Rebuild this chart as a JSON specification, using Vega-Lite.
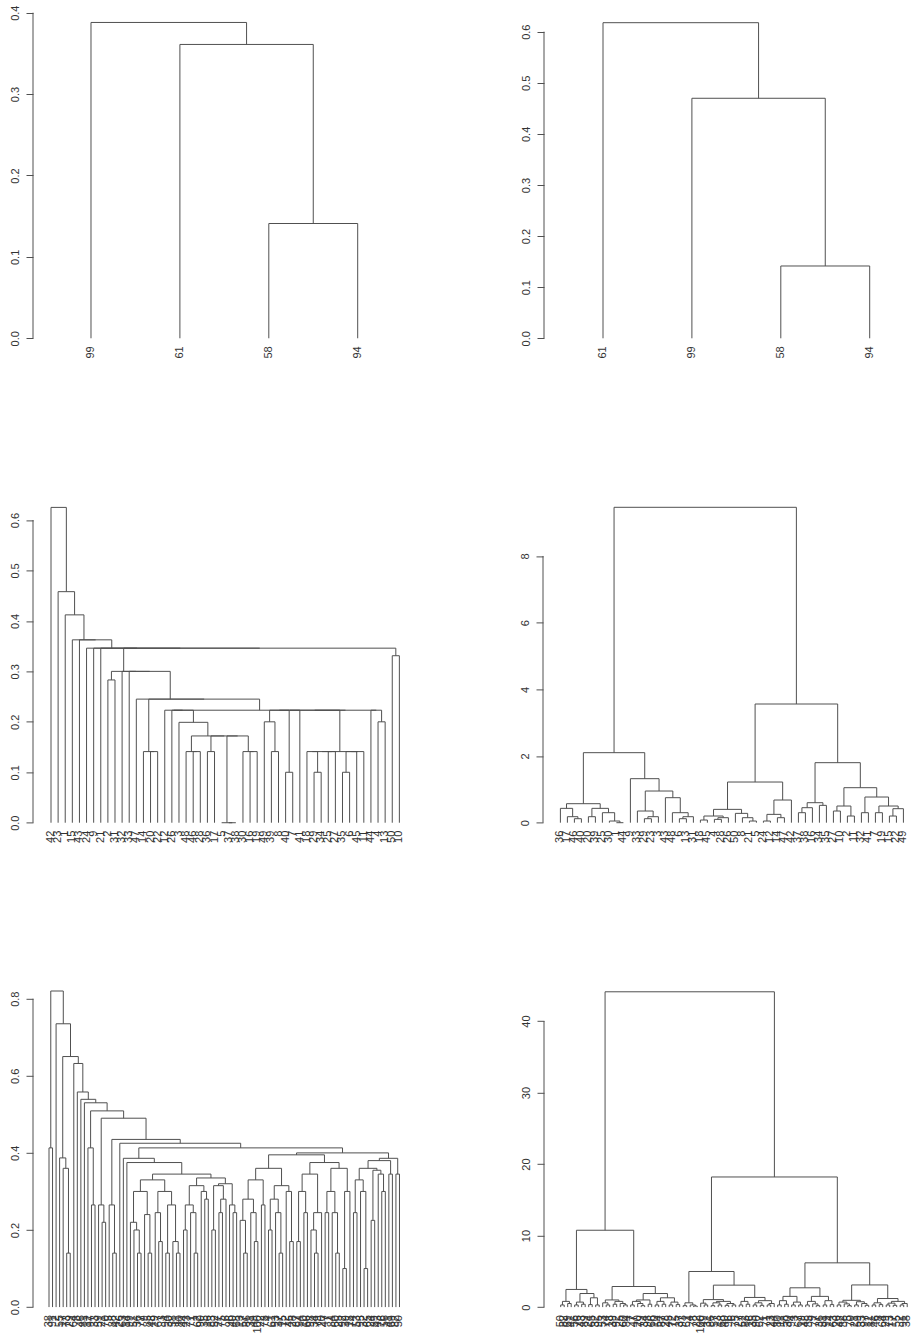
{
"$schema": "https://vega.github.io/schema/vega-lite/v6.json",
"background": "white",
"padding": {"left": 9, "top": 0, "right": 0, "bottom": 0},
"spacing": 120.4,
"datasets": {
"m1": [{"l":3,"r":4,"h":0.141,"a":0,"b":0},{"l":2,"r":3.5,"h":0.361,"a":0,"b":0.141},{"l":1,"r":2.75,"h":0.388,"a":0,"b":0.361}],
"m2": [{"l":3,"r":4,"h":0.1415,"a":0,"b":0},{"l":2,"r":3.5,"h":0.4697,"a":0,"b":0.1415},{"l":1,"r":2.75,"h":0.6176,"a":0,"b":0.4697}],
"m3": [
{"l":9,"r":10,"h":0.283,"a":0,"b":0},{"l":15,"r":16,"h":0.141,"a":0,"b":0},{"l":14,"r":15.5,"h":0.141,"a":0,"b":0.141},
{"l":21,"r":22,"h":0.141,"a":0,"b":0},{"l":20,"r":21.5,"h":0.141,"a":0,"b":0.141},{"l":23,"r":24,"h":0.141,"a":0,"b":0},
{"l":26,"r":27,"h":0,"a":0,"b":0},{"l":25,"r":26.5,"h":0,"a":0,"b":0},{"l":29,"r":30,"h":0.141,"a":0,"b":0},
{"l":28,"r":29.5,"h":0.141,"a":0,"b":0.141},{"l":25.75,"r":28.75,"h":0.172,"a":0,"b":0.141},{"l":23.5,"r":27.25,"h":0.172,"a":0.141,"b":0.172},
{"l":20.75,"r":25.375,"h":0.172,"a":0.141,"b":0.172},{"l":19,"r":23.0625,"h":0.199,"a":0,"b":0.172},{"l":32,"r":33,"h":0.141,"a":0,"b":0},
{"l":31,"r":32.5,"h":0.2,"a":0,"b":0.141},{"l":34,"r":35,"h":0.1,"a":0,"b":0},{"l":38,"r":39,"h":0.1,"a":0,"b":0},
{"l":42,"r":43,"h":0.1,"a":0,"b":0},{"l":37,"r":38.5,"h":0.141,"a":0,"b":0.1},{"l":40,"r":41,"h":0.141,"a":0,"b":0},
{"l":37.75,"r":40.5,"h":0.141,"a":0.141,"b":0.141},{"l":42.5,"r":44,"h":0.141,"a":0.1,"b":0},{"l":43.25,"r":45,"h":0.141,"a":0.141,"b":0},
{"l":39.125,"r":44.125,"h":0.141,"a":0.141,"b":0.141},{"l":47,"r":48,"h":0.2,"a":0,"b":0},{"l":18,"r":21.0313,"h":0.223,"a":0,"b":0.199},
{"l":17,"r":19.5156,"h":0.223,"a":0,"b":0.223},{"l":31.75,"r":34.5,"h":0.223,"a":0.2,"b":0.1},{"l":33.125,"r":36,"h":0.223,"a":0.223,"b":0},
{"l":34.5625,"r":41.625,"h":0.223,"a":0.223,"b":0.141},{"l":46,"r":47.5,"h":0.223,"a":0,"b":0.2},{"l":38.0938,"r":46.75,"h":0.223,"a":0.223,"b":0.223},
{"l":18.2578,"r":42.4219,"h":0.223,"a":0.223,"b":0.223},{"l":14.75,"r":30.3398,"h":0.245,"a":0.141,"b":0.223},{"l":13,"r":22.5449,"h":0.245,"a":0,"b":0.245},
{"l":12,"r":17.7725,"h":0.3,"a":0,"b":0.245},{"l":11,"r":14.8862,"h":0.3,"a":0,"b":0.3},{"l":9.5,"r":12.9431,"h":0.3,"a":0.283,"b":0.3},
{"l":49,"r":50,"h":0.331,"a":0,"b":0},{"l":11.2216,"r":49.5,"h":0.346,"a":0.3,"b":0.331},{"l":8,"r":30.3608,"h":0.346,"a":0,"b":0.346},
{"l":7,"r":19.1804,"h":0.346,"a":0,"b":0.346},{"l":6,"r":13.0902,"h":0.346,"a":0,"b":0.346},{"l":5,"r":9.5451,"h":0.3625,"a":0,"b":0.346},
{"l":4,"r":7.2726,"h":0.3625,"a":0,"b":0.3625},{"l":3,"r":5.6363,"h":0.412,"a":0,"b":0.3625},{"l":2,"r":4.3182,"h":0.458,"a":0,"b":0.412},
{"l":1,"r":3.1591,"h":0.625,"a":0,"b":0.458}],
"m4": [
{"l":3,"r":4,"h":0.12,"a":0,"b":0},{"l":2,"r":3.5,"h":0.18,"a":0,"b":0.12},{"l":1,"r":2.75,"h":0.43,"a":0,"b":0.18},
{"l":5,"r":6,"h":0.18,"a":0,"b":0},{"l":9,"r":10,"h":0,"a":0,"b":0},{"l":8,"r":9.5,"h":0.05,"a":0,"b":0},
{"l":7,"r":8.75,"h":0.3,"a":0,"b":0.05},{"l":5.5,"r":7.875,"h":0.43,"a":0.18,"b":0.3},{"l":1.875,"r":6.6875,"h":0.57,"a":0.43,"b":0.43},
{"l":13,"r":14,"h":0.12,"a":0,"b":0},{"l":13.5,"r":15,"h":0.18,"a":0.12,"b":0},{"l":12,"r":14.25,"h":0.35,"a":0,"b":0.18},
{"l":18,"r":19,"h":0.12,"a":0,"b":0},{"l":18.5,"r":20,"h":0.18,"a":0.12,"b":0},{"l":17,"r":19.25,"h":0.3,"a":0,"b":0.18},
{"l":16,"r":18.125,"h":0.75,"a":0,"b":0.3},{"l":13.125,"r":17.0625,"h":0.95,"a":0.35,"b":0.75},{"l":11,"r":15.0938,"h":1.32,"a":0,"b":0.95},
{"l":4.2813,"r":13.0469,"h":2.1,"a":0.57,"b":1.32},{"l":21,"r":22,"h":0.08,"a":0,"b":0},{"l":23,"r":24,"h":0.1,"a":0,"b":0},
{"l":23.5,"r":25,"h":0.15,"a":0.1,"b":0},{"l":21.5,"r":24.25,"h":0.2,"a":0.08,"b":0.15},{"l":28,"r":29,"h":0.05,"a":0,"b":0},
{"l":27,"r":28.5,"h":0.15,"a":0,"b":0.05},{"l":26,"r":27.75,"h":0.28,"a":0,"b":0.15},{"l":22.875,"r":26.875,"h":0.4,"a":0.2,"b":0.28},
{"l":30,"r":31,"h":0.05,"a":0,"b":0},{"l":32,"r":33,"h":0.15,"a":0,"b":0},{"l":30.5,"r":32.5,"h":0.25,"a":0.05,"b":0.15},
{"l":31.5,"r":34,"h":0.68,"a":0.25,"b":0},{"l":24.875,"r":32.75,"h":1.22,"a":0.4,"b":0.68},{"l":35,"r":36,"h":0.3,"a":0,"b":0},
{"l":35.5,"r":37,"h":0.45,"a":0.3,"b":0},{"l":38,"r":39,"h":0.52,"a":0,"b":0},{"l":36.25,"r":38.5,"h":0.6,"a":0.45,"b":0.52},
{"l":40,"r":41,"h":0.35,"a":0,"b":0},{"l":42,"r":43,"h":0.2,"a":0,"b":0},{"l":40.5,"r":42.5,"h":0.5,"a":0.35,"b":0.2},
{"l":44,"r":45,"h":0.3,"a":0,"b":0},{"l":46,"r":47,"h":0.3,"a":0,"b":0},{"l":48,"r":49,"h":0.2,"a":0,"b":0},
{"l":48.5,"r":50,"h":0.42,"a":0.2,"b":0},{"l":46.5,"r":49.25,"h":0.5,"a":0.3,"b":0.42},{"l":44.5,"r":47.875,"h":0.77,"a":0.3,"b":0.5},
{"l":41.5,"r":46.1875,"h":1.05,"a":0.5,"b":0.77},{"l":37.375,"r":43.8438,"h":1.8,"a":0.6,"b":1.05},{"l":28.8125,"r":40.6094,"h":3.56,"a":1.22,"b":1.8},
{"l":8.6641,"r":34.7109,"h":9.46,"a":2.1,"b":3.56}],
"m5": [
{"l":1,"r":2,"h":0.413,"a":0,"b":0},{"l":6,"r":7,"h":0.14,"a":0,"b":0},{"l":5,"r":6.5,"h":0.36,"a":0,"b":0.14},
{"l":4,"r":5.75,"h":0.387,"a":0,"b":0.36},{"l":13,"r":14,"h":0.265,"a":0,"b":0},{"l":12,"r":13.5,"h":0.413,"a":0,"b":0.265},
{"l":16,"r":17,"h":0.22,"a":0,"b":0},{"l":15,"r":16.5,"h":0.265,"a":0,"b":0.22},{"l":19,"r":20,"h":0.14,"a":0,"b":0},
{"l":18,"r":19.5,"h":0.265,"a":0,"b":0.14},{"l":26,"r":27,"h":0.14,"a":0,"b":0},{"l":25,"r":26.5,"h":0.2,"a":0,"b":0.14},
{"l":24,"r":25.75,"h":0.22,"a":0,"b":0.2},{"l":29,"r":30,"h":0.14,"a":0,"b":0},{"l":28,"r":29.5,"h":0.24,"a":0,"b":0.14},
{"l":24.875,"r":28.75,"h":0.3,"a":0.22,"b":0.24},{"l":32,"r":33,"h":0.17,"a":0,"b":0},{"l":31,"r":32.5,"h":0.245,"a":0,"b":0.17},
{"l":34,"r":35,"h":0.14,"a":0,"b":0},{"l":37,"r":38,"h":0.14,"a":0,"b":0},{"l":36,"r":37.5,"h":0.17,"a":0,"b":0.14},
{"l":34.5,"r":36.75,"h":0.265,"a":0.14,"b":0.17},{"l":31.75,"r":35.625,"h":0.3,"a":0.245,"b":0.265},{"l":26.8125,"r":33.6875,"h":0.33,"a":0.3,"b":0.3},
{"l":39,"r":40,"h":0.2,"a":0,"b":0},{"l":42,"r":43,"h":0.14,"a":0,"b":0},{"l":41,"r":42.5,"h":0.245,"a":0,"b":0.14},
{"l":39.5,"r":41.75,"h":0.265,"a":0.2,"b":0.245},{"l":45,"r":46,"h":0.28,"a":0,"b":0},{"l":44,"r":45.5,"h":0.3,"a":0,"b":0.28},
{"l":40.625,"r":44.75,"h":0.315,"a":0.265,"b":0.3},{"l":47,"r":48,"h":0.2,"a":0,"b":0},{"l":49,"r":50,"h":0.245,"a":0,"b":0},
{"l":49.5,"r":51,"h":0.28,"a":0.245,"b":0},{"l":47.5,"r":50.25,"h":0.315,"a":0.2,"b":0.28},{"l":53,"r":54,"h":0.245,"a":0,"b":0},
{"l":52,"r":53.5,"h":0.265,"a":0,"b":0.245},{"l":48.875,"r":52.75,"h":0.32,"a":0.315,"b":0.265},{"l":42.6875,"r":50.8125,"h":0.335,"a":0.315,"b":0.32},
{"l":30.25,"r":46.75,"h":0.345,"a":0.33,"b":0.335},{"l":23,"r":38.5,"h":0.375,"a":0,"b":0.345},{"l":22,"r":30.75,"h":0.386,"a":0,"b":0.375},
{"l":56,"r":57,"h":0.14,"a":0,"b":0},{"l":55,"r":56.5,"h":0.225,"a":0,"b":0.14},{"l":59,"r":60,"h":0.17,"a":0,"b":0},
{"l":58,"r":59.5,"h":0.245,"a":0,"b":0.17},{"l":55.75,"r":58.75,"h":0.28,"a":0.225,"b":0.245},{"l":61,"r":62,"h":0.265,"a":0,"b":0},
{"l":57.25,"r":61.5,"h":0.33,"a":0.28,"b":0.265},{"l":63,"r":64,"h":0.2,"a":0,"b":0},{"l":66,"r":67,"h":0.14,"a":0,"b":0},
{"l":65,"r":66.5,"h":0.245,"a":0,"b":0.14},{"l":63.5,"r":65.75,"h":0.28,"a":0.2,"b":0.245},{"l":69,"r":70,"h":0.17,"a":0,"b":0},
{"l":68,"r":69.5,"h":0.3,"a":0,"b":0.17},{"l":64.625,"r":68.75,"h":0.315,"a":0.28,"b":0.3},{"l":59.375,"r":66.6875,"h":0.36,"a":0.33,"b":0.315},
{"l":71,"r":72,"h":0.17,"a":0,"b":0},{"l":73,"r":74,"h":0.245,"a":0,"b":0},{"l":71.5,"r":73.5,"h":0.3,"a":0.17,"b":0.245},
{"l":76,"r":77,"h":0.14,"a":0,"b":0},{"l":75,"r":76.5,"h":0.2,"a":0,"b":0.14},{"l":75.75,"r":78,"h":0.245,"a":0.2,"b":0},
{"l":72.5,"r":76.875,"h":0.345,"a":0.3,"b":0.245},{"l":79,"r":80,"h":0.245,"a":0,"b":0},{"l":82,"r":83,"h":0.14,"a":0,"b":0},
{"l":81,"r":82.5,"h":0.245,"a":0,"b":0.14},{"l":79.5,"r":81.75,"h":0.3,"a":0.245,"b":0.245},{"l":84,"r":85,"h":0.1,"a":0,"b":0},
{"l":84.5,"r":86,"h":0.3,"a":0.1,"b":0},{"l":80.625,"r":85.25,"h":0.36,"a":0.3,"b":0.3},{"l":74.6875,"r":82.9375,"h":0.375,"a":0.345,"b":0.36},
{"l":63.0313,"r":78.8125,"h":0.395,"a":0.36,"b":0.375},{"l":87,"r":88,"h":0.245,"a":0,"b":0},{"l":90,"r":91,"h":0.1,"a":0,"b":0},
{"l":89,"r":90.5,"h":0.3,"a":0,"b":0.1},{"l":87.5,"r":89.75,"h":0.33,"a":0.245,"b":0.3},{"l":92,"r":93,"h":0.225,"a":0,"b":0},
{"l":95,"r":96,"h":0.3,"a":0,"b":0},{"l":94,"r":95.5,"h":0.345,"a":0,"b":0.3},{"l":92.5,"r":94.75,"h":0.355,"a":0.225,"b":0.345},
{"l":88.625,"r":93.625,"h":0.36,"a":0.33,"b":0.355},{"l":97,"r":98,"h":0.345,"a":0,"b":0},{"l":91.125,"r":97.5,"h":0.38,"a":0.36,"b":0.345},
{"l":99,"r":100,"h":0.345,"a":0,"b":0},{"l":94.3125,"r":99.5,"h":0.386,"a":0.38,"b":0.345},{"l":70.9219,"r":96.9063,"h":0.4,"a":0.395,"b":0.386},
{"l":26.375,"r":83.9141,"h":0.413,"a":0.386,"b":0.4},{"l":21,"r":55.1445,"h":0.425,"a":0,"b":0.413},{"l":18.75,"r":38.0723,"h":0.435,"a":0.265,"b":0.425},
{"l":15.75,"r":28.4111,"h":0.49,"a":0.265,"b":0.435},{"l":12.75,"r":22.0806,"h":0.509,"a":0.413,"b":0.49},{"l":11,"r":17.4153,"h":0.53,"a":0,"b":0.509},
{"l":10,"r":14.2077,"h":0.539,"a":0,"b":0.53},{"l":9,"r":12.1038,"h":0.558,"a":0,"b":0.539},{"l":8,"r":10.5519,"h":0.632,"a":0,"b":0.558},
{"l":4.875,"r":9.276,"h":0.65,"a":0.387,"b":0.632},{"l":3,"r":7.0755,"h":0.735,"a":0,"b":0.65},{"l":1.5,"r":5.0378,"h":0.82,"a":0.413,"b":0.735}],
"m6": [
{"l":1,"r":2,"h":0.3,"a":0,"b":0},{"l":3,"r":4,"h":0.5,"a":0,"b":0},{"l":1.5,"r":3.5,"h":0.8,"a":0.3,"b":0.5},
{"l":5,"r":6,"h":0.3,"a":0,"b":0},{"l":7,"r":8,"h":0.4,"a":0,"b":0},{"l":5.5,"r":7.5,"h":0.7,"a":0.3,"b":0.4},
{"l":9,"r":10,"h":0.35,"a":0,"b":0},{"l":11,"r":12,"h":0.3,"a":0,"b":0},{"l":9.5,"r":11.5,"h":1.3,"a":0.35,"b":0.3},
{"l":6.5,"r":10.5,"h":1.9,"a":0.7,"b":1.3},{"l":2.5,"r":8.5,"h":2.47,"a":0.8,"b":1.9},{"l":14,"r":15,"h":0.3,"a":0,"b":0},
{"l":13,"r":14.5,"h":0.6,"a":0,"b":0.3},{"l":16,"r":17,"h":0.4,"a":0,"b":0},{"l":19,"r":20,"h":0.3,"a":0,"b":0},
{"l":18,"r":19.5,"h":0.5,"a":0,"b":0.3},{"l":16.5,"r":18.75,"h":0.8,"a":0.4,"b":0.5},{"l":13.75,"r":17.625,"h":1.0,"a":0.6,"b":0.8},
{"l":21,"r":22,"h":0.3,"a":0,"b":0},{"l":24,"r":25,"h":0.2,"a":0,"b":0},{"l":23,"r":24.5,"h":0.5,"a":0,"b":0.2},
{"l":21.5,"r":23.75,"h":0.8,"a":0.3,"b":0.5},{"l":26,"r":27,"h":0.4,"a":0,"b":0},{"l":22.625,"r":26.5,"h":1.0,"a":0.8,"b":0.4},
{"l":28,"r":29,"h":0.3,"a":0,"b":0},{"l":30,"r":31,"h":0.4,"a":0,"b":0},{"l":28.5,"r":30.5,"h":0.8,"a":0.3,"b":0.4},
{"l":32,"r":33,"h":0.3,"a":0,"b":0},{"l":34,"r":35,"h":0.35,"a":0,"b":0},{"l":32.5,"r":34.5,"h":0.7,"a":0.3,"b":0.35},
{"l":29.5,"r":33.5,"h":1.3,"a":0.8,"b":0.7},{"l":24.5625,"r":31.5,"h":1.9,"a":1.0,"b":1.3},{"l":15.6875,"r":28.0313,"h":2.88,"a":1.0,"b":1.9},
{"l":5.5,"r":21.8594,"h":10.75,"a":2.47,"b":2.88},{"l":36,"r":37,"h":0.2,"a":0,"b":0},{"l":39,"r":40,"h":0.15,"a":0,"b":0},
{"l":38,"r":39.5,"h":0.3,"a":0,"b":0.15},{"l":36.5,"r":38.75,"h":0.6,"a":0.2,"b":0.3},{"l":42,"r":43,"h":0.3,"a":0,"b":0},
{"l":41,"r":42.5,"h":0.55,"a":0,"b":0.3},{"l":44,"r":45,"h":0.2,"a":0,"b":0},{"l":46,"r":47,"h":0.3,"a":0,"b":0},
{"l":44.5,"r":46.5,"h":0.6,"a":0.2,"b":0.3},{"l":48,"r":49,"h":0.25,"a":0,"b":0},{"l":50,"r":51,"h":0.3,"a":0,"b":0},
{"l":48.5,"r":50.5,"h":0.5,"a":0.25,"b":0.3},{"l":45.5,"r":49.5,"h":0.8,"a":0.6,"b":0.5},{"l":41.75,"r":47.5,"h":1.05,"a":0.55,"b":0.8},
{"l":52,"r":53,"h":0.3,"a":0,"b":0},{"l":54,"r":55,"h":0.4,"a":0,"b":0},{"l":52.5,"r":54.5,"h":0.8,"a":0.3,"b":0.4},
{"l":56,"r":57,"h":0.3,"a":0,"b":0},{"l":58,"r":59,"h":0.25,"a":0,"b":0},{"l":56.5,"r":58.5,"h":0.6,"a":0.3,"b":0.25},
{"l":60,"r":61,"h":0.3,"a":0,"b":0},{"l":60.5,"r":62,"h":0.5,"a":0.3,"b":0},{"l":57.5,"r":61.25,"h":0.9,"a":0.6,"b":0.5},
{"l":53.5,"r":59.375,"h":1.35,"a":0.8,"b":0.9},{"l":44.625,"r":56.4375,"h":3.07,"a":1.05,"b":1.35},{"l":37.625,"r":50.5313,"h":4.98,"a":0.6,"b":3.07},
{"l":63,"r":64,"h":0.3,"a":0,"b":0},{"l":65,"r":66,"h":0.4,"a":0,"b":0},{"l":63.5,"r":65.5,"h":0.9,"a":0.3,"b":0.4},
{"l":67,"r":68,"h":0.3,"a":0,"b":0},{"l":69,"r":70,"h":0.3,"a":0,"b":0},{"l":67.5,"r":69.5,"h":0.7,"a":0.3,"b":0.3},
{"l":64.5,"r":68.5,"h":1.5,"a":0.9,"b":0.7},{"l":71,"r":72,"h":0.3,"a":0,"b":0},{"l":74,"r":75,"h":0.2,"a":0,"b":0},
{"l":73,"r":74.5,"h":0.45,"a":0,"b":0.2},{"l":71.5,"r":73.75,"h":0.8,"a":0.3,"b":0.45},{"l":76,"r":77,"h":0.3,"a":0,"b":0},
{"l":78,"r":79,"h":0.35,"a":0,"b":0},{"l":76.5,"r":78.5,"h":0.9,"a":0.3,"b":0.35},{"l":72.625,"r":77.5,"h":1.5,"a":0.8,"b":0.9},
{"l":66.5,"r":75.0625,"h":2.7,"a":1.5,"b":1.5},{"l":80,"r":81,"h":0.3,"a":0,"b":0},{"l":83,"r":84,"h":0.2,"a":0,"b":0},
{"l":82,"r":83.5,"h":0.45,"a":0,"b":0.2},{"l":80.5,"r":82.75,"h":0.7,"a":0.3,"b":0.45},{"l":85,"r":86,"h":0.3,"a":0,"b":0},
{"l":88,"r":89,"h":0.25,"a":0,"b":0},{"l":87,"r":88.5,"h":0.5,"a":0,"b":0.25},{"l":85.5,"r":87.75,"h":0.75,"a":0.3,"b":0.5},
{"l":81.625,"r":86.625,"h":0.95,"a":0.7,"b":0.75},{"l":90,"r":91,"h":0.3,"a":0,"b":0},{"l":92,"r":93,"h":0.35,"a":0,"b":0},
{"l":90.5,"r":92.5,"h":0.6,"a":0.3,"b":0.35},{"l":94,"r":95,"h":0.3,"a":0,"b":0},{"l":96,"r":97,"h":0.25,"a":0,"b":0},
{"l":94.5,"r":96.5,"h":0.55,"a":0.3,"b":0.25},{"l":98,"r":99,"h":0.3,"a":0,"b":0},{"l":98.5,"r":100,"h":0.5,"a":0.3,"b":0},
{"l":95.5,"r":99.25,"h":0.8,"a":0.55,"b":0.5},{"l":91.5,"r":97.375,"h":1.2,"a":0.6,"b":0.8},{"l":84.125,"r":94.4375,"h":3.1,"a":0.95,"b":1.2},
{"l":70.7813,"r":89.2813,"h":6.19,"a":2.7,"b":3.1},{"l":44.0781,"r":80.0313,"h":18.2,"a":4.98,"b":6.19},{"l":13.6797,"r":62.0547,"h":44.1,"a":10.75,"b":18.2}],
"l1": [{"i":1,"t":"99"},{"i":2,"t":"61"},{"i":3,"t":"58"},{"i":4,"t":"94"}],
"l2": [{"i":1,"t":"61"},{"i":2,"t":"99"},{"i":3,"t":"58"},{"i":4,"t":"94"}],
"l3": [{"i":1,"t":"42"},{"i":2,"t":"23"},{"i":3,"t":"1"},{"i":4,"t":"15"},{"i":5,"t":"43"},{"i":6,"t":"24"},{"i":7,"t":"9"},{"i":8,"t":"21"},{"i":9,"t":"2"},{"i":10,"t":"31"},
{"i":11,"t":"32"},{"i":12,"t":"33"},{"i":13,"t":"47"},{"i":14,"t":"14"},{"i":15,"t":"20"},{"i":16,"t":"22"},{"i":17,"t":"12"},{"i":18,"t":"26"},{"i":19,"t":"3"},{"i":20,"t":"48"},
{"i":21,"t":"46"},{"i":22,"t":"28"},{"i":23,"t":"36"},{"i":24,"t":"17"},{"i":25,"t":"5"},{"i":26,"t":"37"},{"i":27,"t":"38"},{"i":28,"t":"30"},{"i":29,"t":"16"},{"i":30,"t":"19"},
{"i":31,"t":"49"},{"i":32,"t":"39"},{"i":33,"t":"8"},{"i":34,"t":"40"},{"i":35,"t":"7"},{"i":36,"t":"41"},{"i":37,"t":"18"},{"i":38,"t":"29"},{"i":39,"t":"34"},{"i":40,"t":"25"},
{"i":41,"t":"27"},{"i":42,"t":"35"},{"i":43,"t":"6"},{"i":44,"t":"45"},{"i":45,"t":"11"},{"i":46,"t":"44"},{"i":47,"t":"4"},{"i":48,"t":"13"},{"i":49,"t":"50"},{"i":50,"t":"10"}],
"l4": [{"i":1,"t":"36"},{"i":2,"t":"17"},{"i":3,"t":"46"},{"i":4,"t":"40"},{"i":5,"t":"20"},{"i":6,"t":"39"},{"i":7,"t":"25"},{"i":8,"t":"30"},{"i":9,"t":"1"},{"i":10,"t":"44"},
{"i":11,"t":"9"},{"i":12,"t":"33"},{"i":13,"t":"29"},{"i":14,"t":"23"},{"i":15,"t":"3"},{"i":16,"t":"43"},{"i":17,"t":"48"},{"i":18,"t":"6"},{"i":19,"t":"13"},{"i":20,"t":"31"},
{"i":21,"t":"18"},{"i":22,"t":"45"},{"i":23,"t":"4"},{"i":24,"t":"28"},{"i":25,"t":"26"},{"i":26,"t":"50"},{"i":27,"t":"8"},{"i":28,"t":"21"},{"i":29,"t":"5"},{"i":30,"t":"24"},
{"i":31,"t":"12"},{"i":32,"t":"14"},{"i":33,"t":"47"},{"i":34,"t":"42"},{"i":35,"t":"37"},{"i":36,"t":"38"},{"i":37,"t":"16"},{"i":38,"t":"34"},{"i":39,"t":"35"},{"i":40,"t":"27"},
{"i":41,"t":"10"},{"i":42,"t":"2"},{"i":43,"t":"11"},{"i":44,"t":"32"},{"i":45,"t":"41"},{"i":46,"t":"7"},{"i":47,"t":"19"},{"i":48,"t":"15"},{"i":49,"t":"22"},{"i":50,"t":"49"}],
"l5": [{"i":1,"t":"38"},{"i":2,"t":"91"},{"i":3,"t":"2"},{"i":4,"t":"55"},{"i":5,"t":"17"},{"i":6,"t":"73"},{"i":7,"t":"29"},{"i":8,"t":"64"},{"i":9,"t":"8"},{"i":10,"t":"46"},
{"i":11,"t":"81"},{"i":12,"t":"12"},{"i":13,"t":"97"},{"i":14,"t":"33"},{"i":15,"t":"59"},{"i":16,"t":"21"},{"i":17,"t":"70"},{"i":18,"t":"5"},{"i":19,"t":"88"},{"i":20,"t":"42"},
{"i":21,"t":"26"},{"i":22,"t":"63"},{"i":23,"t":"14"},{"i":24,"t":"99"},{"i":25,"t":"51"},{"i":26,"t":"36"},{"i":27,"t":"77"},{"i":28,"t":"9"},{"i":29,"t":"85"},{"i":30,"t":"48"},
{"i":31,"t":"19"},{"i":32,"t":"67"},{"i":33,"t":"3"},{"i":34,"t":"94"},{"i":35,"t":"30"},{"i":36,"t":"58"},{"i":37,"t":"11"},{"i":38,"t":"80"},{"i":39,"t":"44"},{"i":40,"t":"23"},
{"i":41,"t":"71"},{"i":42,"t":"1"},{"i":43,"t":"62"},{"i":44,"t":"90"},{"i":45,"t":"35"},{"i":46,"t":"16"},{"i":47,"t":"83"},{"i":48,"t":"52"},{"i":49,"t":"27"},{"i":50,"t":"75"},
{"i":51,"t":"6"},{"i":52,"t":"96"},{"i":53,"t":"40"},{"i":54,"t":"68"},{"i":55,"t":"13"},{"i":56,"t":"57"},{"i":57,"t":"86"},{"i":58,"t":"31"},{"i":59,"t":"49"},{"i":60,"t":"100"},
{"i":61,"t":"22"},{"i":62,"t":"78"},{"i":63,"t":"4"},{"i":64,"t":"61"},{"i":65,"t":"93"},{"i":66,"t":"37"},{"i":67,"t":"15"},{"i":68,"t":"72"},{"i":69,"t":"45"},{"i":70,"t":"28"},
{"i":71,"t":"87"},{"i":72,"t":"54"},{"i":73,"t":"10"},{"i":74,"t":"66"},{"i":75,"t":"98"},{"i":76,"t":"34"},{"i":77,"t":"79"},{"i":78,"t":"20"},{"i":79,"t":"47"},{"i":80,"t":"7"},
{"i":81,"t":"84"},{"i":82,"t":"60"},{"i":83,"t":"25"},{"i":84,"t":"92"},{"i":85,"t":"39"},{"i":86,"t":"18"},{"i":87,"t":"74"},{"i":88,"t":"53"},{"i":89,"t":"95"},{"i":90,"t":"32"},
{"i":91,"t":"65"},{"i":92,"t":"24"},{"i":93,"t":"89"},{"i":94,"t":"43"},{"i":95,"t":"76"},{"i":96,"t":"56"},{"i":97,"t":"41"},{"i":98,"t":"69"},{"i":99,"t":"82"},{"i":100,"t":"50"}],
"l6": [{"i":1,"t":"50"},{"i":2,"t":"82"},{"i":3,"t":"69"},{"i":4,"t":"41"},{"i":5,"t":"56"},{"i":6,"t":"76"},{"i":7,"t":"43"},{"i":8,"t":"89"},{"i":9,"t":"24"},{"i":10,"t":"65"},
{"i":11,"t":"32"},{"i":12,"t":"95"},{"i":13,"t":"53"},{"i":14,"t":"74"},{"i":15,"t":"18"},{"i":16,"t":"39"},{"i":17,"t":"92"},{"i":18,"t":"25"},{"i":19,"t":"60"},{"i":20,"t":"84"},
{"i":21,"t":"7"},{"i":22,"t":"47"},{"i":23,"t":"20"},{"i":24,"t":"79"},{"i":25,"t":"34"},{"i":26,"t":"98"},{"i":27,"t":"66"},{"i":28,"t":"10"},{"i":29,"t":"54"},{"i":30,"t":"87"},
{"i":31,"t":"28"},{"i":32,"t":"45"},{"i":33,"t":"72"},{"i":34,"t":"15"},{"i":35,"t":"37"},{"i":36,"t":"93"},{"i":37,"t":"61"},{"i":38,"t":"4"},{"i":39,"t":"78"},{"i":40,"t":"22"},
{"i":41,"t":"100"},{"i":42,"t":"49"},{"i":43,"t":"31"},{"i":44,"t":"86"},{"i":45,"t":"57"},{"i":46,"t":"13"},{"i":47,"t":"68"},{"i":48,"t":"40"},{"i":49,"t":"96"},{"i":50,"t":"6"},
{"i":51,"t":"75"},{"i":52,"t":"27"},{"i":53,"t":"52"},{"i":54,"t":"83"},{"i":55,"t":"16"},{"i":56,"t":"35"},{"i":57,"t":"90"},{"i":58,"t":"62"},{"i":59,"t":"1"},{"i":60,"t":"71"},
{"i":61,"t":"23"},{"i":62,"t":"44"},{"i":63,"t":"80"},{"i":64,"t":"11"},{"i":65,"t":"58"},{"i":66,"t":"30"},{"i":67,"t":"94"},{"i":68,"t":"3"},{"i":69,"t":"67"},{"i":70,"t":"19"},
{"i":71,"t":"48"},{"i":72,"t":"85"},{"i":73,"t":"9"},{"i":74,"t":"77"},{"i":75,"t":"36"},{"i":76,"t":"51"},{"i":77,"t":"99"},{"i":78,"t":"14"},{"i":79,"t":"63"},{"i":80,"t":"26"},
{"i":81,"t":"42"},{"i":82,"t":"88"},{"i":83,"t":"5"},{"i":84,"t":"70"},{"i":85,"t":"21"},{"i":86,"t":"59"},{"i":87,"t":"33"},{"i":88,"t":"97"},{"i":89,"t":"12"},{"i":90,"t":"81"},
{"i":91,"t":"46"},{"i":92,"t":"8"},{"i":93,"t":"64"},{"i":94,"t":"29"},{"i":95,"t":"73"},{"i":96,"t":"17"},{"i":97,"t":"55"},{"i":98,"t":"2"},{"i":99,"t":"91"},{"i":100,"t":"38"}]
},
"vconcat": [
{"hconcat": [
{"width": 400, "height": 364, "layer": [
{"data": {"name": "m1"}, "mark": {"type": "rule"}, "encoding": {"x": {"field": "l", "type": "quantitative", "scale": {"domain": [0.3476, 4.847], "nice": false, "zero": false}, "axis": null}, "x2": {"field": "r"}, "y": {"field": "h", "type": "quantitative", "scale": {"domain": [-0.0316, 0.4156], "nice": false, "zero": false}, "axis": {"values": [0, 0.1, 0.2, 0.3, 0.4], "format": ".1f", "title": null}}}},
{"data": {"name": "m1"}, "mark": {"type": "rule"}, "encoding": {"x": {"field": "l", "type": "quantitative", "scale": {"domain": [0.3476, 4.847], "nice": false, "zero": false}, "axis": null}, "y": {"field": "a", "type": "quantitative", "scale": {"domain": [-0.0316, 0.4156], "nice": false, "zero": false}, "axis": {"values": [0, 0.1, 0.2, 0.3, 0.4], "format": ".1f", "title": null}}, "y2": {"field": "h"}}},
{"data": {"name": "m1"}, "mark": {"type": "rule"}, "encoding": {"x": {"field": "r", "type": "quantitative", "scale": {"domain": [0.3476, 4.847], "nice": false, "zero": false}, "axis": null}, "y": {"field": "b", "type": "quantitative", "scale": {"domain": [-0.0316, 0.4156], "nice": false, "zero": false}, "axis": {"values": [0, 0.1, 0.2, 0.3, 0.4], "format": ".1f", "title": null}}, "y2": {"field": "h"}}},
{"data": {"values": [{}]}, "mark": {"type": "rule"}, "encoding": {"x": {"datum": 0.3476, "type": "quantitative", "scale": {"domain": [0.3476, 4.847], "nice": false, "zero": false}, "axis": null}, "y": {"datum": 0, "type": "quantitative", "scale": {"domain": [-0.0316, 0.4156], "nice": false, "zero": false}, "axis": {"values": [0, 0.1, 0.2, 0.3, 0.4], "format": ".1f", "title": null}}, "y2": {"datum": 0.4}}},
{"data": {"name": "l1"}, "mark": {"type": "text", "angle": 270, "align": "right", "baseline": "middle", "dx": -8, "fontSize": 11, "font": "Liberation Sans", "color": "#333333"}, "encoding": {"x": {"field": "i", "type": "quantitative", "scale": {"domain": [0.3476, 4.847], "nice": false, "zero": false}, "axis": null}, "y": {"datum": 0, "type": "quantitative", "scale": {"domain": [-0.0316, 0.4156], "nice": false, "zero": false}, "axis": {"values": [0, 0.1, 0.2, 0.3, 0.4], "format": ".1f", "title": null}}, "text": {"field": "t"}}}
]},
{"width": 370, "height": 364, "layer": [
{"data": {"name": "m2"}, "mark": {"type": "rule"}, "encoding": {"x": {"field": "l", "type": "quantitative", "scale": {"domain": [0.3363, 4.4983], "nice": false, "zero": false}, "axis": null}, "x2": {"field": "r"}, "y": {"field": "h", "type": "quantitative", "scale": {"domain": [-0.0503, 0.662], "nice": false, "zero": false}, "axis": {"values": [0, 0.1, 0.2, 0.3, 0.4, 0.5, 0.6], "format": ".1f", "title": null}}}},
{"data": {"name": "m2"}, "mark": {"type": "rule"}, "encoding": {"x": {"field": "l", "type": "quantitative", "scale": {"domain": [0.3363, 4.4983], "nice": false, "zero": false}, "axis": null}, "y": {"field": "a", "type": "quantitative", "scale": {"domain": [-0.0503, 0.662], "nice": false, "zero": false}, "axis": {"values": [0, 0.1, 0.2, 0.3, 0.4, 0.5, 0.6], "format": ".1f", "title": null}}, "y2": {"field": "h"}}},
{"data": {"name": "m2"}, "mark": {"type": "rule"}, "encoding": {"x": {"field": "r", "type": "quantitative", "scale": {"domain": [0.3363, 4.4983], "nice": false, "zero": false}, "axis": null}, "y": {"field": "b", "type": "quantitative", "scale": {"domain": [-0.0503, 0.662], "nice": false, "zero": false}, "axis": {"values": [0, 0.1, 0.2, 0.3, 0.4, 0.5, 0.6], "format": ".1f", "title": null}}, "y2": {"field": "h"}}},
{"data": {"values": [{}]}, "mark": {"type": "rule"}, "encoding": {"x": {"datum": 0.3363, "type": "quantitative", "scale": {"domain": [0.3363, 4.4983], "nice": false, "zero": false}, "axis": null}, "y": {"datum": 0, "type": "quantitative", "scale": {"domain": [-0.0503, 0.662], "nice": false, "zero": false}, "axis": {"values": [0, 0.1, 0.2, 0.3, 0.4, 0.5, 0.6], "format": ".1f", "title": null}}, "y2": {"datum": 0.6}}},
{"data": {"name": "l2"}, "mark": {"type": "text", "angle": 270, "align": "right", "baseline": "middle", "dx": -8, "fontSize": 11, "font": "Liberation Sans", "color": "#333333"}, "encoding": {"x": {"field": "i", "type": "quantitative", "scale": {"domain": [0.3363, 4.4983], "nice": false, "zero": false}, "axis": null}, "y": {"datum": 0, "type": "quantitative", "scale": {"domain": [-0.0503, 0.662], "nice": false, "zero": false}, "axis": {"values": [0, 0.1, 0.2, 0.3, 0.4, 0.5, 0.6], "format": ".1f", "title": null}}, "text": {"field": "t"}}}
]}
], "spacing": 86},
{"hconcat": [
{"width": 400, "height": 364, "layer": [
{"data": {"name": "m3"}, "mark": {"type": "rule"}, "encoding": {"x": {"field": "l", "type": "quantitative", "scale": {"domain": [-1.532, 54.73], "nice": false, "zero": false}, "axis": null}, "x2": {"field": "r"}, "y": {"field": "h", "type": "quantitative", "scale": {"domain": [-0.0509, 0.6706], "nice": false, "zero": false}, "axis": {"values": [0, 0.1, 0.2, 0.3, 0.4, 0.5, 0.6], "format": ".1f", "title": null}}}},
{"data": {"name": "m3"}, "mark": {"type": "rule"}, "encoding": {"x": {"field": "l", "type": "quantitative", "scale": {"domain": [-1.532, 54.73], "nice": false, "zero": false}, "axis": null}, "y": {"field": "a", "type": "quantitative", "scale": {"domain": [-0.0509, 0.6706], "nice": false, "zero": false}, "axis": {"values": [0, 0.1, 0.2, 0.3, 0.4, 0.5, 0.6], "format": ".1f", "title": null}}, "y2": {"field": "h"}}},
{"data": {"name": "m3"}, "mark": {"type": "rule"}, "encoding": {"x": {"field": "r", "type": "quantitative", "scale": {"domain": [-1.532, 54.73], "nice": false, "zero": false}, "axis": null}, "y": {"field": "b", "type": "quantitative", "scale": {"domain": [-0.0509, 0.6706], "nice": false, "zero": false}, "axis": {"values": [0, 0.1, 0.2, 0.3, 0.4, 0.5, 0.6], "format": ".1f", "title": null}}, "y2": {"field": "h"}}},
{"data": {"values": [{}]}, "mark": {"type": "rule"}, "encoding": {"x": {"datum": -1.532, "type": "quantitative", "scale": {"domain": [-1.532, 54.73], "nice": false, "zero": false}, "axis": null}, "y": {"datum": 0, "type": "quantitative", "scale": {"domain": [-0.0509, 0.6706], "nice": false, "zero": false}, "axis": {"values": [0, 0.1, 0.2, 0.3, 0.4, 0.5, 0.6], "format": ".1f", "title": null}}, "y2": {"datum": 0.6}}},
{"data": {"name": "l3"}, "mark": {"type": "text", "angle": 270, "align": "right", "baseline": "middle", "dx": -8, "fontSize": 11, "font": "Liberation Sans", "color": "#333333"}, "encoding": {"x": {"field": "i", "type": "quantitative", "scale": {"domain": [-1.532, 54.73], "nice": false, "zero": false}, "axis": null}, "y": {"datum": 0, "type": "quantitative", "scale": {"domain": [-0.0509, 0.6706], "nice": false, "zero": false}, "axis": {"values": [0, 0.1, 0.2, 0.3, 0.4, 0.5, 0.6], "format": ".1f", "title": null}}, "text": {"field": "t"}}}
]},
{"width": 370, "height": 364, "layer": [
{"data": {"name": "m4"}, "mark": {"type": "rule"}, "encoding": {"x": {"field": "l", "type": "quantitative", "scale": {"domain": [-1.486, 51.37], "nice": false, "zero": false}, "axis": null}, "x2": {"field": "r"}, "y": {"field": "h", "type": "quantitative", "scale": {"domain": [-0.771, 10.147], "nice": false, "zero": false}, "axis": {"values": [0, 2, 4, 6, 8], "format": "d", "title": null}}}},
{"data": {"name": "m4"}, "mark": {"type": "rule"}, "encoding": {"x": {"field": "l", "type": "quantitative", "scale": {"domain": [-1.486, 51.37], "nice": false, "zero": false}, "axis": null}, "y": {"field": "a", "type": "quantitative", "scale": {"domain": [-0.771, 10.147], "nice": false, "zero": false}, "axis": {"values": [0, 2, 4, 6, 8], "format": "d", "title": null}}, "y2": {"field": "h"}}},
{"data": {"name": "m4"}, "mark": {"type": "rule"}, "encoding": {"x": {"field": "r", "type": "quantitative", "scale": {"domain": [-1.486, 51.37], "nice": false, "zero": false}, "axis": null}, "y": {"field": "b", "type": "quantitative", "scale": {"domain": [-0.771, 10.147], "nice": false, "zero": false}, "axis": {"values": [0, 2, 4, 6, 8], "format": "d", "title": null}}, "y2": {"field": "h"}}},
{"data": {"values": [{}]}, "mark": {"type": "rule"}, "encoding": {"x": {"datum": -1.486, "type": "quantitative", "scale": {"domain": [-1.486, 51.37], "nice": false, "zero": false}, "axis": null}, "y": {"datum": 0, "type": "quantitative", "scale": {"domain": [-0.771, 10.147], "nice": false, "zero": false}, "axis": {"values": [0, 2, 4, 6, 8], "format": "d", "title": null}}, "y2": {"datum": 8}}},
{"data": {"name": "l4"}, "mark": {"type": "text", "angle": 270, "align": "right", "baseline": "middle", "dx": -8, "fontSize": 11, "font": "Liberation Sans", "color": "#333333"}, "encoding": {"x": {"field": "i", "type": "quantitative", "scale": {"domain": [-1.486, 51.37], "nice": false, "zero": false}, "axis": null}, "y": {"datum": 0, "type": "quantitative", "scale": {"domain": [-0.771, 10.147], "nice": false, "zero": false}, "axis": {"values": [0, 2, 4, 6, 8], "format": "d", "title": null}}, "text": {"field": "t"}}}
]}
], "spacing": 86},
{"hconcat": [
{"width": 400, "height": 364, "layer": [
{"data": {"name": "m5"}, "mark": {"type": "rule"}, "encoding": {"x": {"field": "l", "type": "quantitative", "scale": {"domain": [-3.52, 109.47], "nice": false, "zero": false}, "axis": null}, "x2": {"field": "r"}, "y": {"field": "h", "type": "quantitative", "scale": {"domain": [-0.0667, 0.8776], "nice": false, "zero": false}, "axis": {"values": [0, 0.2, 0.4, 0.6, 0.8], "format": ".1f", "title": null}}}},
{"data": {"name": "m5"}, "mark": {"type": "rule"}, "encoding": {"x": {"field": "l", "type": "quantitative", "scale": {"domain": [-3.52, 109.47], "nice": false, "zero": false}, "axis": null}, "y": {"field": "a", "type": "quantitative", "scale": {"domain": [-0.0667, 0.8776], "nice": false, "zero": false}, "axis": {"values": [0, 0.2, 0.4, 0.6, 0.8], "format": ".1f", "title": null}}, "y2": {"field": "h"}}},
{"data": {"name": "m5"}, "mark": {"type": "rule"}, "encoding": {"x": {"field": "r", "type": "quantitative", "scale": {"domain": [-3.52, 109.47], "nice": false, "zero": false}, "axis": null}, "y": {"field": "b", "type": "quantitative", "scale": {"domain": [-0.0667, 0.8776], "nice": false, "zero": false}, "axis": {"values": [0, 0.2, 0.4, 0.6, 0.8], "format": ".1f", "title": null}}, "y2": {"field": "h"}}},
{"data": {"values": [{}]}, "mark": {"type": "rule"}, "encoding": {"x": {"datum": -3.52, "type": "quantitative", "scale": {"domain": [-3.52, 109.47], "nice": false, "zero": false}, "axis": null}, "y": {"datum": 0, "type": "quantitative", "scale": {"domain": [-0.0667, 0.8776], "nice": false, "zero": false}, "axis": {"values": [0, 0.2, 0.4, 0.6, 0.8], "format": ".1f", "title": null}}, "y2": {"datum": 0.8}}},
{"data": {"name": "l5"}, "mark": {"type": "text", "angle": 270, "align": "right", "baseline": "middle", "dx": -8, "fontSize": 11, "font": "Liberation Sans", "color": "#333333", "clip": true}, "encoding": {"x": {"field": "i", "type": "quantitative", "scale": {"domain": [-3.52, 109.47], "nice": false, "zero": false}, "axis": null}, "y": {"datum": 0, "type": "quantitative", "scale": {"domain": [-0.0667, 0.8776], "nice": false, "zero": false}, "axis": {"values": [0, 0.2, 0.4, 0.6, 0.8], "format": ".1f", "title": null}}, "text": {"field": "t"}}}
]},
{"width": 370, "height": 364, "layer": [
{"data": {"name": "m6"}, "mark": {"type": "rule"}, "encoding": {"x": {"field": "l", "type": "quantitative", "scale": {"domain": [-3.77, 101.94], "nice": false, "zero": false}, "axis": null}, "x2": {"field": "r"}, "y": {"field": "h", "type": "quantitative", "scale": {"domain": [-3.594, 47.315], "nice": false, "zero": false}, "axis": {"values": [0, 10, 20, 30, 40], "format": "d", "title": null}}}},
{"data": {"name": "m6"}, "mark": {"type": "rule"}, "encoding": {"x": {"field": "l", "type": "quantitative", "scale": {"domain": [-3.77, 101.94], "nice": false, "zero": false}, "axis": null}, "y": {"field": "a", "type": "quantitative", "scale": {"domain": [-3.594, 47.315], "nice": false, "zero": false}, "axis": {"values": [0, 10, 20, 30, 40], "format": "d", "title": null}}, "y2": {"field": "h"}}},
{"data": {"name": "m6"}, "mark": {"type": "rule"}, "encoding": {"x": {"field": "r", "type": "quantitative", "scale": {"domain": [-3.77, 101.94], "nice": false, "zero": false}, "axis": null}, "y": {"field": "b", "type": "quantitative", "scale": {"domain": [-3.594, 47.315], "nice": false, "zero": false}, "axis": {"values": [0, 10, 20, 30, 40], "format": "d", "title": null}}, "y2": {"field": "h"}}},
{"data": {"values": [{}]}, "mark": {"type": "rule"}, "encoding": {"x": {"datum": -3.77, "type": "quantitative", "scale": {"domain": [-3.77, 101.94], "nice": false, "zero": false}, "axis": null}, "y": {"datum": 0, "type": "quantitative", "scale": {"domain": [-3.594, 47.315], "nice": false, "zero": false}, "axis": {"values": [0, 10, 20, 30, 40], "format": "d", "title": null}}, "y2": {"datum": 40}}},
{"data": {"name": "l6"}, "mark": {"type": "text", "angle": 270, "align": "right", "baseline": "middle", "dx": -8, "fontSize": 11, "font": "Liberation Sans", "color": "#333333", "clip": true}, "encoding": {"x": {"field": "i", "type": "quantitative", "scale": {"domain": [-3.77, 101.94], "nice": false, "zero": false}, "axis": null}, "y": {"datum": 0, "type": "quantitative", "scale": {"domain": [-3.594, 47.315], "nice": false, "zero": false}, "axis": {"values": [0, 10, 20, 30, 40], "format": "d", "title": null}}, "text": {"field": "t"}}}
]}
], "spacing": 86}
],
"config": {
"view": {"stroke": null},
"rule": {"color": "#505050", "strokeWidth": 1},
"axis": {"grid": false, "domain": false, "ticks": true, "tickColor": "#505050", "tickSize": 7, "tickWidth": 1, "labelFont": "Liberation Sans", "labelFontSize": 11, "labelColor": "#333333", "labelAngle": 270, "labelAlign": "center", "labelBaseline": "bottom", "labelPadding": 6, "labelFlush": false, "labelOverlap": false, "labelBound": false}
}
}
